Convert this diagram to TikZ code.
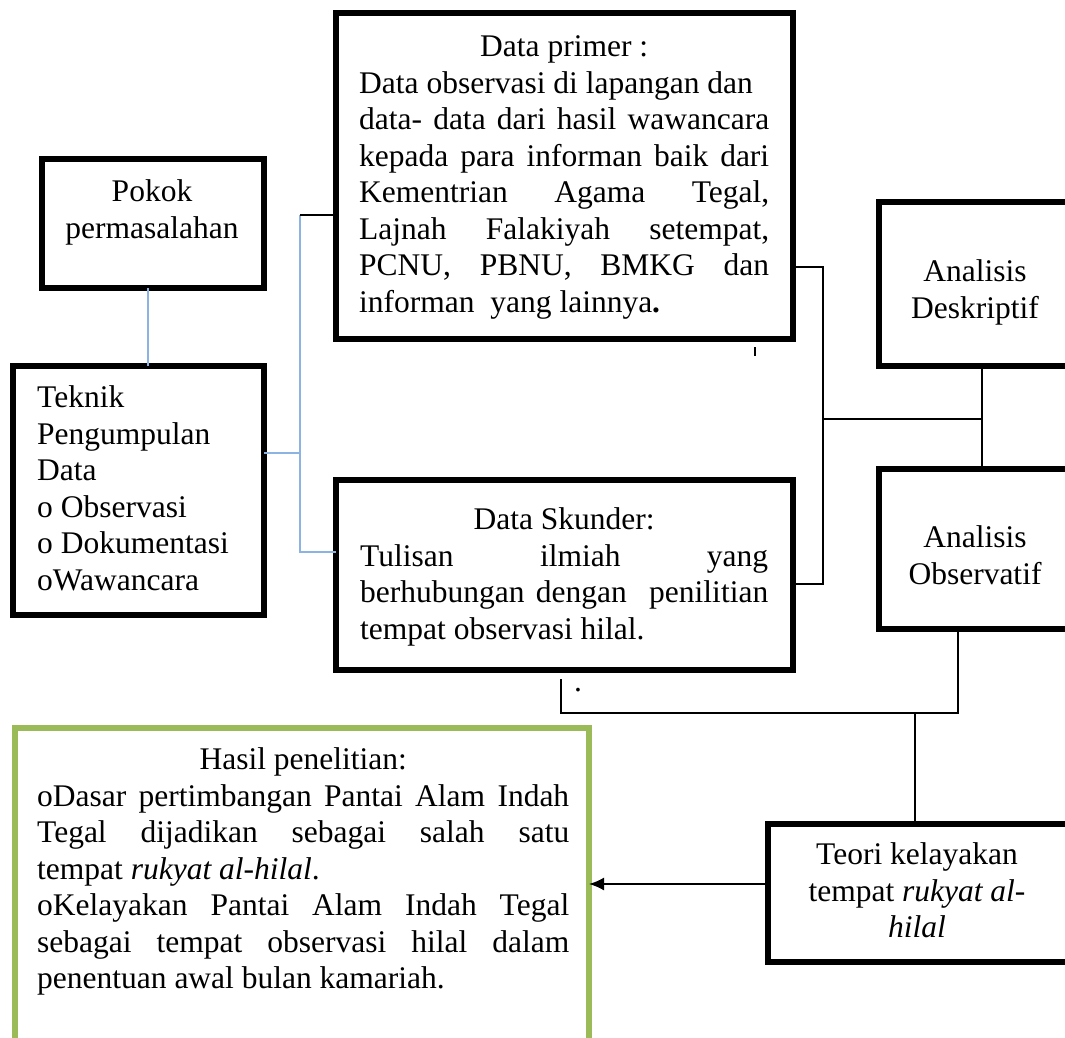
\documentclass[tikz,border=0pt]{standalone}
\usepackage{fontspec}
\setmainfont{Liberation Serif}
\usetikzlibrary{arrows.meta,calc}
\definecolor{flowBlue}{HTML}{8DB3E2}
\definecolor{flowGreen}{HTML}{9BBB59}
\newcommand\flowfont{\fontsize{31.5}{36.5}\selectfont}
\begin{document}
\begin{tikzpicture}[x=1pt,y=-1pt,>=Latex]
\useasboundingbox (0,0) rectangle (1065,1038);
\clip (0,0) rectangle (1065,1038);
\path[fill=white] (0,0) rectangle (1065,1038);
\tikzset{thickbox/.style={draw=black,line width=6pt,inner sep=0pt,outer sep=0pt},greenbox/.style={draw=flowGreen,line width=6pt,inner sep=0pt,outer sep=0pt},wire/.style={draw=black,line width=1.8pt},bluewire/.style={draw=flowBlue,line width=1.8pt},txt/.style={inner sep=0pt,anchor=north,align=center,font=\flowfont},ltxt/.style={txt,anchor=north west,align=left}}
\node[thickbox,minimum width=222,minimum height=129] (pokok) at (153,223.5) {};
\node[thickbox,minimum width=251,minimum height=249] (teknik) at (138.5,490.5) {};
\node[thickbox,minimum width=457,minimum height=326] (primer) at (564.5,176) {};
\node[thickbox,minimum width=457,minimum height=190] (skunder) at (564.5,575) {};
\node[thickbox,minimum width=206,minimum height=164] (desk) at (982,284) {};
\node[thickbox,minimum width=206,minimum height=160] (obs) at (982,549) {};
\node[thickbox,minimum width=317,minimum height=138] (teori) at (926.5,893) {};
\node[greenbox,minimum width=574,minimum height=322] (hasil) at (302,889) {};
\node[txt] (pokoktext) at (152,176) {\strut Pokok\\permasalahan};
\node[ltxt] (teknivtext) at (37,382) {\strut Teknik\\Pengumpulan\\Data\\o Observasi\\o Dokumentasi\\oWawancara};
\node[ltxt] (primertext) at (359,31) {\makebox[410pt][c]{\strut Data primer :}\\\makebox[410pt][l]{Data observasi di lapangan dan}\\\makebox[410pt][s]{data- data dari hasil wawancara}\\\makebox[410pt][s]{kepada para informan baik dari}\\\makebox[410pt][s]{Kementrian Agama Tegal,}\\\makebox[410pt][s]{Lajnah Falakiyah setempat,}\\\makebox[410pt][s]{PCNU, PBNU, BMKG dan}\\informan\ \ yang lainnya\textbf{.}};
\node[ltxt] (skundertext) at (360,504) {\makebox[408pt][c]{\strut Data Skunder:}\\\makebox[408pt][s]{Tulisan ilmiah yang}\\\makebox[408pt][s]{berhubungan dengan\ \ penilitian}\\tempat observasi hilal.};
\node[txt] (desktext) at (975,256) {\strut Analisis\\Deskriptif};
\node[txt] (obstext) at (975,522) {\strut Analisis\\Observatif};
\node[txt] (teoritext) at (917,839) {\strut Teori kelayakan\\tempat \textit{rukyat al-}\\\textit{hilal}};
\node[ltxt] (hasiltext) at (37,744) {\makebox[532pt][c]{\strut Hasil penelitian:}\\\makebox[532pt][s]{oDasar pertimbangan Pantai Alam Indah}\\\makebox[532pt][s]{Tegal dijadikan sebagai salah satu}\\tempat \textit{rukyat al-hilal}.\\\makebox[532pt][s]{oKelayakan Pantai Alam Indah Tegal}\\\makebox[532pt][s]{sebagai tempat observasi hilal dalam}\\penentuan awal bulan kamariah.};
\node[inner sep=0pt,font=\flowfont] (dotmark) at (578,690) {.};
\draw[line width=2pt] (755,347) -- (755,356);
\coordinate (jtop) at (300,215);
\coordinate (jmid) at (300,453);
\coordinate (jbot) at (300,552);
\coordinate (kr) at (823,267);
\coordinate (km) at (823,419);
\coordinate (kb) at (823,584);
\coordinate (ka) at (982,419);
\coordinate (ob) at (958,713);
\coordinate (sc) at (561,713);
\coordinate (sb) at (561,679);
\coordinate (tv) at (915,713);
\coordinate (ar) at (0,884);
\draw[bluewire] ([xshift=-5pt]pokok.south) -- ([xshift=-5pt]pokok.south |- teknik.north);
\draw[bluewire] (jmid -| teknik.east) -- (jmid);
\draw[bluewire] (jtop) -- (jbot) -- (jbot -| skunder.west);
\draw[wire] (jtop) -- (jtop -| primer.west);
\draw[wire] (kr -| primer.east) -- (kr) -- (kb) -- (kb -| skunder.east);
\draw[wire] (km) -- (ka);
\draw[wire] (desk.south -| ka) -- (obs.north -| ka);
\draw[wire] (obs.south -| ob) -- (ob) -- (sc) -- (sb);
\draw[wire] (tv) -- (tv |- teori.north);
\draw[wire,-{Latex[length=15pt,width=13pt]}] (ar -| teori.west) -- (ar -| hasil.east);
\end{tikzpicture}
\end{document}
